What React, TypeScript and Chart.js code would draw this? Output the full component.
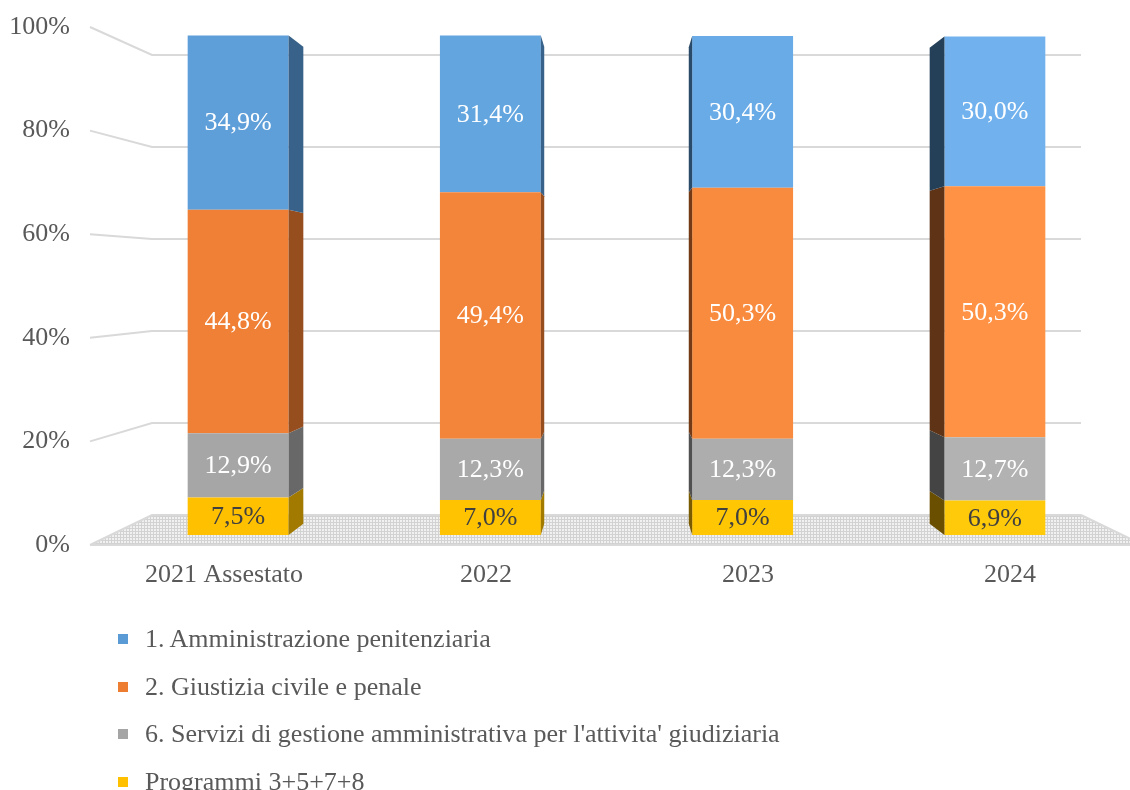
import React, { useEffect, useRef } from "react";
import { Chart, registerables } from "chart.js";

Chart.register(...registerables);

const categories = ["2021 Assestato", "2022", "2023", "2024"];
const seriesNames = [
  "1. Amministrazione penitenziaria",
  "2. Giustizia civile e penale",
  "6. Servizi di gestione amministrativa per l'attivita' giudiziaria",
  "Programmi 3+5+7+8",
];
const amministrazione = [34.9, 31.4, 30.4, 30.0];
const giustizia = [44.8, 49.4, 50.3, 50.3];
const servizi = [12.9, 12.3, 12.3, 12.7];
const programmi = [7.5, 7.0, 7.0, 6.9];
const yTicks = [0, 20, 40, 60, 80, 100];

// styles (bottom-up order: programmi, servizi, giustizia, amministrazione)
const frontColors = [
  ["#ffc000", "#ffc302", "#ffc604", "#ffca0a"],
  ["#a6a6a6", "#a9a9a9", "#adadad", "#b2b2b2"],
  ["#ef8035", "#f3853a", "#f98b3f", "#ff9244"],
  ["#5f9fd9", "#63a5df", "#69abe6", "#71b2ee"],
];
const sideColors = [
  ["#a27a00", "#a27a00", "#7a5b00", "#6a4f00"],
  ["#686868", "#686868", "#505050", "#444444"],
  ["#974e1f", "#974e1f", "#733a15", "#5f3416"],
  ["#386289", "#386289", "#2a4a69", "#243f58"],
];
const labelColors = ["#404040", "#ffffff", "#ffffff", "#ffffff"];
const legendColors = ["#5b9bd5", "#ed7d31", "#a5a5a5", "#ffc000"];

const SERIF = '"Liberation Serif", "Times New Roman", serif';
const FRONT_MIN = -0.4275;
const FRONT_MAX = 3.4237;

function makePattern(ctx: CanvasRenderingContext2D) {
  const c = document.createElement("canvas");
  c.width = 3;
  c.height = 3;
  const p = c.getContext("2d")!;
  p.fillStyle = "#f1f1f1";
  p.fillRect(0, 0, 3, 3);
  p.fillStyle = "#d2d2d2";
  p.fillRect(0, 0, 3, 1);
  p.fillRect(0, 0, 1, 3);
  return ctx.createPattern(c, "repeat");
}

const perspectivePlugin = {
  id: "perspective",
  beforeDatasetsDraw(chart: any) {
    const { ctx, chartArea, scales } = chart;
    const yF = scales.y;
    const yB = scales.yBack;
    const vx = (chartArea.left + chartArea.right) / 2;
    const fl = 90;
    const bl = 152;
    const br = 2 * vx - bl;
    const fr = 2 * vx - fl;
    const f0 = yF.getPixelForValue(0);
    const b0 = yB.getPixelForValue(0);
    ctx.save();
    ctx.fillStyle = makePattern(ctx) || "#ececec";
    ctx.beginPath();
    ctx.moveTo(bl, b0);
    ctx.lineTo(br, b0);
    ctx.lineTo(fr, f0);
    ctx.lineTo(fl, f0);
    ctx.closePath();
    ctx.fill();
    ctx.strokeStyle = "#d9d9d9";
    ctx.lineWidth = 2;
    yTicks.forEach((v) => {
      const yf = yF.getPixelForValue(v);
      const yb = yB.getPixelForValue(v);
      ctx.beginPath();
      ctx.moveTo(fl, yf);
      ctx.lineTo(bl, yb);
      ctx.lineTo(br, yb);
      ctx.stroke();
    });
    ctx.beginPath();
    ctx.moveTo(fl, f0);
    ctx.lineTo(fr, f0);
    ctx.moveTo(br, b0);
    ctx.lineTo(fr, f0);
    ctx.stroke();
    ctx.restore();
  },
  afterDatasetsDraw(chart: any) {
    const { ctx, chartArea, scales } = chart;
    const yR = scales.yBar;
    const vx = (chartArea.left + chartArea.right) / 2;
    const vy = yR.getPixelForValue(50);
    const k = 0.955;
    ctx.save();
    chart.data.datasets.forEach((ds: any, di: number) => {
      const meta = chart.getDatasetMeta(di);
      meta.data.forEach((bar: any, i: number) => {
        const { x, y, base, width } = bar.getProps(["x", "y", "base", "width"], true);
        const left = x - width / 2;
        const right = x + width / 2;
        const edge = x < vx ? right : left;
        const far = vx + (edge - vx) * k;
        const top = Math.min(y, base);
        const bot = Math.max(y, base);
        ctx.fillStyle = sideColors[di][i];
        ctx.beginPath();
        ctx.moveTo(edge, top);
        ctx.lineTo(far, vy + (top - vy) * k);
        ctx.lineTo(far, vy + (bot - vy) * k);
        ctx.lineTo(edge, bot);
        ctx.closePath();
        ctx.fill();
      });
    });
    ctx.font = `26px ${SERIF}`;
    ctx.textAlign = "center";
    ctx.textBaseline = "middle";
    chart.data.datasets.forEach((ds: any, di: number) => {
      const meta = chart.getDatasetMeta(di);
      meta.data.forEach((bar: any, i: number) => {
        const { x, y, base } = bar.getProps(["x", "y", "base"], true);
        const v = ds.data[i];
        ctx.fillStyle = labelColors[di];
        ctx.fillText(v.toFixed(1).replace(".", ",") + "%", x, (y + base) / 2 + 1);
      });
    });
    ctx.restore();
  },
};

export default function App() {
  const ref = useRef<HTMLCanvasElement | null>(null);
  useEffect(() => {
    if (!ref.current) return;
    const bottomUp = [programmi, servizi, giustizia, amministrazione];
    const names = [seriesNames[3], seriesNames[2], seriesNames[1], seriesNames[0]];
    const chart = new Chart(ref.current, {
      type: "bar",
      data: {
        labels: categories,
        datasets: bottomUp.map((d, i) => ({
          label: names[i],
          data: d,
          backgroundColor: frontColors[i],
          borderWidth: 0,
          xAxisID: "x",
          yAxisID: "yBar",
          barPercentage: 0.4,
          categoryPercentage: 1,
        })),
      },
      options: {
        responsive: false,
        animation: false,
        devicePixelRatio: 1,
        layout: { padding: { top: 27, right: 9, left: 0, bottom: 0 } },
        plugins: { legend: { display: false }, tooltip: { enabled: false } },
        scales: {
          x: {
            type: "category",
            display: false,
            stacked: true,
          },
          xFront: {
            type: "linear",
            axis: "x",
            position: "bottom",
            offset: false,
            bounds: "data",
            min: FRONT_MIN,
            max: FRONT_MAX,
            grid: { display: false, drawTicks: false, offset: false },
            border: { display: false },
            afterBuildTicks: (s: any) => {
              s.ticks = categories.map((_, i) => ({ value: i }));
            },
            ticks: {
              color: "#595959",
              font: { family: SERIF, size: 26 },
              padding: 15,
              maxRotation: 0,
              autoSkip: false,
              callback: (v: any) => categories[Math.round(v)] ?? "",
            },
            afterFit: (s: any) => {
              s.height = 245;
              s.paddingLeft = 0;
              s.paddingRight = 0;
            },
          },
          y: {
            position: "left",
            min: 0,
            max: 100,
            grid: { display: false, drawTicks: false },
            border: { display: false },
            ticks: {
              stepSize: 20,
              color: "#595959",
              font: { family: SERIF, size: 26 },
              padding: 42,
              callback: (v: any) => v + "%",
            },
            afterFit: (s: any) => {
              s.width = 112;
              s.paddingTop = 0;
              s.paddingBottom = 0;
            },
          },
          yBar: {
            display: false,
            stacked: true,
            min: -2.004,
            max: 101.8,
          },
          yBack: {
            display: false,
            min: -6.52,
            max: 106.09,
          },
        },
      },
      plugins: [perspectivePlugin],
    } as any);
    return () => chart.destroy();
  }, []);

  return (
    <div style={{ position: "absolute", left: 0, top: 0, width: 1130, height: 790, background: "#fff", overflow: "hidden" }}>
      <canvas ref={ref} width={1130} height={790} style={{ width: 1130, height: 790, display: "block" }} />
      {seriesNames.map((n, i) => (
        <div
          key={n}
          style={{
            position: "absolute",
            left: 118,
            top: 624 + i * 47.5,
            height: 30,
            display: "flex",
            alignItems: "center",
            whiteSpace: "nowrap",
            fontFamily: SERIF,
            fontSize: 26,
            color: "#595959",
          }}
        >
          <span style={{ display: "inline-block", width: 10, height: 10, background: legendColors[i], marginRight: 17 }} />
          <span>{n}</span>
        </div>
      ))}
    </div>
  );
}
